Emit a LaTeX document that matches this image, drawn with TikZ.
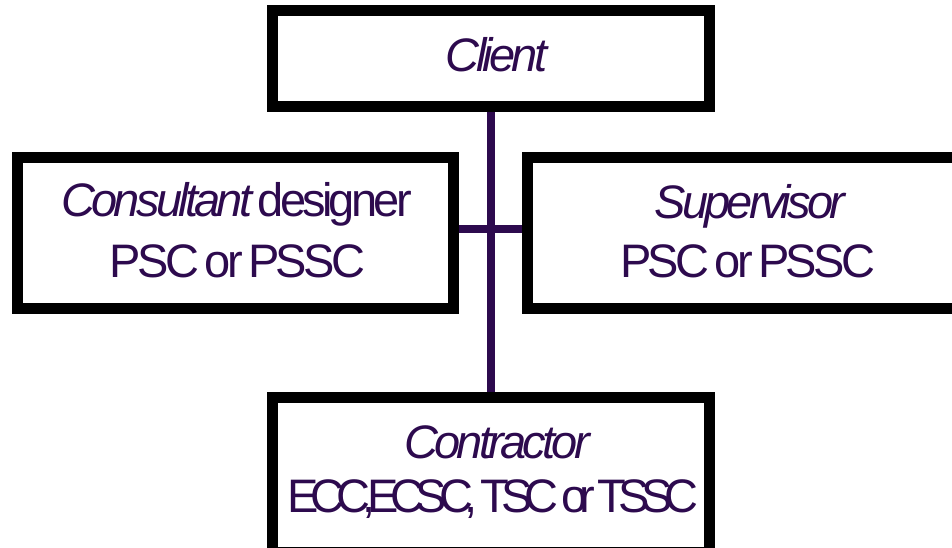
\documentclass[tikz,border=0pt]{standalone}
\usepackage{fontspec}
\setmainfont{Liberation Sans}
\newfontfamily\tightA[LetterSpace=-8, WordSpace=0.6]{Liberation Sans}
\newfontfamily\tightB[LetterSpace=-17.5, WordSpace=0.6]{Liberation Sans}
\usetikzlibrary{backgrounds}
\definecolor{ink}{HTML}{2D0A4E}
\tikzset{
  box/.style={draw=black, line width=11pt, fill=white, rectangle, inner sep=0pt, outer sep=0pt},
  label/.style={anchor=base, inner sep=0pt, text=ink, font=\tightA\fontsize{47}{56}\selectfont},
  labelB/.style={anchor=base, inner sep=0pt, text=ink, font=\tightB\fontsize{47}{56}\selectfont},
  link/.style={draw=ink, line width=7.5pt}
}
\begin{document}
\begin{tikzpicture}[x=1pt, y=-1pt]
\useasboundingbox (0,0) rectangle (952,548);
\clip (0,0) rectangle (952,548);
\node[box, minimum width=436.5pt, minimum height=96pt] (client) at (490.75,58.5) {};
\node[box, minimum width=435.5pt, minimum height=150.5pt] (cons) at (235.25,232.75) {};
\node[box, minimum width=435.5pt, minimum height=150.5pt] (sup) at (745.25,232.75) {};
\node[box, minimum width=436.5pt, minimum height=155pt] (contr) at (490.75,474.5) {};
\begin{scope}[on background layer]
  \draw[link] (client.south) -- (contr.north);
  \draw[link] ([yshift=3.75pt]cons.east) -- ([yshift=3.75pt]sup.west);
\end{scope}
\node[label] (clientT) at (496.5,72) {\itshape Client};
\node[label] (consT1) at (236.5,216) {\itshape Consultant\upshape{} designer};
\node[label] (consT2) at (237.5,277) {PSC or PSSC};
\node[label] (supT1) at (750,218) {\itshape Supervisor};
\node[label] (supT2) at (747.5,277) {PSC or PSSC};
\node[label] (contrT1) at (497,458) {\itshape Contractor};
\node[labelB] (contrT2) at (493,512) {ECC,ECSC, TSC or TSSC};
\end{tikzpicture}
\end{document}
